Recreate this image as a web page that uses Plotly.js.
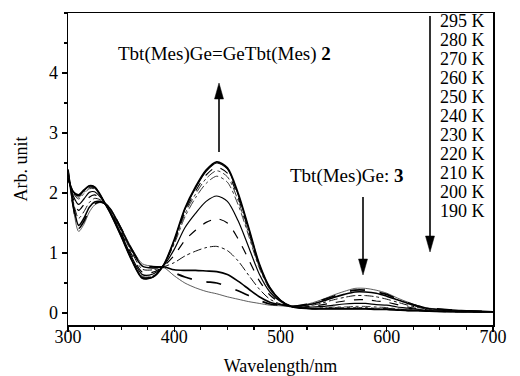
<!DOCTYPE html>
<html><head><meta charset="utf-8">
<script src="https://cdn.plot.ly/plotly-3.0.1.min.js"></script>
<style>html,body{margin:0;padding:0;background:#fff}#chart{width:520px;height:376px}</style>
</head><body><div id="chart"></div>
<script>
// ---- data ----
const wavelength = [300,305,310,315,320,325,330,335,340,350,360,370,380,390,400,410,420,430,440,450,460,470,480,490,500,510,520,530,540,550,560,570,580,590,600,610,620,630,640,670,700];
const tempLabels = ['295 K','280 K','270 K','260 K','250 K','240 K','230 K','220 K','210 K','200 K','190 K'];
const xTicks = [300,400,500,600,700];
const yTicks = [0,1,2,3,4];

const a190 = [2.25,2.02,1.97,2.05,2.12,2.10,1.98,1.82,1.66,1.28,0.88,0.58,0.60,0.80,1.22,1.74,2.10,2.38,2.52,2.42,2.00,1.42,0.82,0.42,0.21,0.11,0.08,0.07,0.07,0.07,0.07,0.07,0.07,0.06,0.06,0.05,0.04,0.04,0.03,0.02,0.02];
const a200 = [2.25,2.02,1.96,2.04,2.12,2.10,1.98,1.82,1.66,1.28,0.88,0.58,0.60,0.80,1.21,1.73,2.08,2.36,2.50,2.40,1.98,1.41,0.81,0.42,0.21,0.11,0.08,0.07,0.07,0.07,0.07,0.07,0.07,0.06,0.06,0.05,0.04,0.04,0.03,0.02,0.02];
const a210 = [2.26,2.01,1.95,2.03,2.10,2.09,1.97,1.82,1.66,1.29,0.89,0.59,0.61,0.80,1.20,1.69,2.03,2.30,2.43,2.33,1.93,1.37,0.79,0.41,0.21,0.11,0.08,0.07,0.08,0.08,0.08,0.08,0.08,0.07,0.07,0.06,0.05,0.04,0.03,0.02,0.02];
const a220 = [2.26,2.00,1.93,2.01,2.09,2.08,1.97,1.82,1.67,1.29,0.89,0.60,0.61,0.80,1.18,1.65,1.98,2.24,2.37,2.27,1.88,1.33,0.77,0.40,0.20,0.11,0.08,0.08,0.08,0.09,0.09,0.09,0.09,0.08,0.08,0.06,0.05,0.05,0.03,0.02,0.02];
const a230 = [2.27,1.99,1.90,1.99,2.07,2.07,1.97,1.82,1.67,1.30,0.90,0.61,0.62,0.80,1.15,1.60,1.92,2.16,2.28,2.18,1.81,1.29,0.75,0.39,0.20,0.11,0.09,0.08,0.09,0.10,0.10,0.11,0.11,0.10,0.09,0.07,0.06,0.05,0.04,0.02,0.02];
const a240 = [2.29,1.95,1.81,1.90,2.01,2.02,1.94,1.82,1.68,1.32,0.93,0.64,0.65,0.79,1.06,1.42,1.66,1.86,1.95,1.86,1.54,1.10,0.65,0.35,0.19,0.11,0.09,0.10,0.11,0.13,0.15,0.16,0.16,0.14,0.13,0.10,0.08,0.06,0.04,0.03,0.02];
const a250 = [2.31,1.90,1.71,1.81,1.93,1.97,1.92,1.82,1.69,1.34,0.97,0.68,0.68,0.78,0.96,1.21,1.38,1.51,1.57,1.50,1.24,0.89,0.54,0.30,0.17,0.11,0.10,0.11,0.14,0.17,0.20,0.22,0.22,0.20,0.18,0.14,0.10,0.07,0.05,0.03,0.02];
const a260 = [2.35,1.85,1.58,1.69,1.84,1.91,1.89,1.82,1.71,1.37,1.01,0.73,0.72,0.77,0.84,0.95,1.03,1.09,1.11,1.04,0.87,0.63,0.40,0.23,0.15,0.11,0.11,0.13,0.17,0.22,0.26,0.29,0.29,0.27,0.23,0.18,0.13,0.09,0.06,0.03,0.02];
const a270 = [2.37,1.80,1.46,1.58,1.76,1.85,1.86,1.82,1.73,1.40,1.05,0.78,0.75,0.77,0.72,0.71,0.71,0.70,0.69,0.64,0.53,0.40,0.27,0.18,0.14,0.11,0.12,0.15,0.20,0.26,0.31,0.35,0.35,0.33,0.28,0.22,0.16,0.11,0.07,0.04,0.02];
const a280 = [2.39,1.77,1.41,1.53,1.72,1.82,1.85,1.82,1.73,1.41,1.06,0.80,0.77,0.76,0.67,0.60,0.55,0.52,0.50,0.44,0.37,0.29,0.21,0.15,0.13,0.11,0.13,0.16,0.22,0.28,0.34,0.38,0.38,0.35,0.31,0.23,0.17,0.11,0.08,0.04,0.02];
const a295 = [2.40,1.75,1.36,1.48,1.68,1.80,1.84,1.82,1.74,1.42,1.08,0.82,0.78,0.76,0.62,0.50,0.42,0.36,0.32,0.27,0.23,0.19,0.16,0.13,0.12,0.11,0.13,0.17,0.23,0.30,0.36,0.41,0.41,0.38,0.33,0.25,0.18,0.12,0.08,0.04,0.02];

// ---- styles ----
const series = [a295,a280,a270,a260,a250,a240,a230,a220,a210,a200,a190];
const dashes = ['solid','longdash','solid','dashdot','dash','solid','dashdot','dashdot','dash','solid','solid'];
const widths = [0.8,1.7,1.6,1.0,1.2,1.2,0.9,0.9,1.1,1.1,1.8];
const colors = ['#333','#000','#000','#111','#000','#000','#222','#222','#000','#000','#000'];

const traces = series.map((s,i)=>({
  x: wavelength, y: s, type:'scatter', mode:'lines', name: tempLabels[i],
  line:{color:colors[i], width:widths[i], dash:dashes[i], shape:'spline', smoothing:0.8},
  hoverinfo:'skip'
}));

// pixel -> data helpers for annotation placement
const X = px => 300 + (px - 68) / 1.0625;
const Y = py => (313 - py) / 60;

const serif = 'Liberation Serif, Times New Roman, serif';
const annotations = [
  {x:X(116), y:Y(54), xref:'x', yref:'y', xanchor:'left', yanchor:'middle', showarrow:false,
   text:'Tbt(Mes)Ge=GeTbt(Mes) <b>2</b>', font:{size:19}},
  {x:X(288), y:Y(176), xref:'x', yref:'y', xanchor:'left', yanchor:'middle', showarrow:false,
   text:'Tbt(Mes)Ge: <b>3</b>', font:{size:19}}
];
tempLabels.forEach((t,i)=>annotations.push({
  x:X(438), y:Y(21+19*i), xref:'x', yref:'y', xanchor:'left', yanchor:'middle', showarrow:false,
  text:t, font:{size:18}
}));

function arrow(px, pyTail, pyTip){
  const dir = pyTip < pyTail ? -1 : 1; // -1: up arrow
  const head = 16, hw = 4.5;
  const lineEnd = pyTip - dir*head*0.6;
  return [
    {type:'line', xref:'x', yref:'y', x0:X(px), x1:X(px), y0:Y(pyTail), y1:Y(lineEnd), line:{color:'#000', width:1.6}},
    {type:'path', xref:'x', yref:'y', xsizemode:'pixel', ysizemode:'pixel', xanchor:X(px), yanchor:Y(pyTip),
     path: dir>0 ? `M${-hw},${head} L${hw},${head} L0,0 Z` : `M${-hw},${-head} L${hw},${-head} L0,0 Z`,
     fillcolor:'#000', line:{color:'#000', width:0.5}}
  ];
}
const shapes = [].concat(arrow(219,152,83), arrow(363,197,275), arrow(430,16,252));

const layout = {
  width:520, height:376,
  margin:{l:68, r:27, t:13, b:51, pad:0},
  paper_bgcolor:'#fff', plot_bgcolor:'#fff',
  font:{family:serif, color:'#000', size:18},
  showlegend:false,
  xaxis:{range:[300,700], tickvals:xTicks, ticktext:xTicks.map(String), ticks:'outside', ticklen:5, tickwidth:1.2, tickcolor:'#000',
    showline:true, linewidth:1.5, linecolor:'#000', mirror:true, showgrid:false, zeroline:false, automargin:false,
    ticklabelstandoff:-10,
    tickfont:{size:18}, title:{text:'Wavelength/nm', font:{size:18}, standoff:16},
    minor:{dtick:25, tick0:300, ticks:'outside', ticklen:3, tickcolor:'#000', showgrid:false}},
  yaxis:{range:[-0.2,5.0], tickvals:yTicks, ticktext:yTicks.map(String), ticks:'outside', ticklen:5, tickwidth:1.2, tickcolor:'#000',
    showline:true, linewidth:1.5, linecolor:'#000', mirror:true, showgrid:false, zeroline:false, automargin:false,
    tickfont:{size:18}, title:{text:'Arb. unit', font:{size:18}, standoff:16},
    minor:{dtick:0.5, tick0:0, ticks:'outside', ticklen:3, tickcolor:'#000', showgrid:false}},
  annotations:annotations,
  shapes:shapes
};
Plotly.newPlot('chart', traces, layout, {displayModeBar:false, staticPlot:true});
</script>
</body></html>
